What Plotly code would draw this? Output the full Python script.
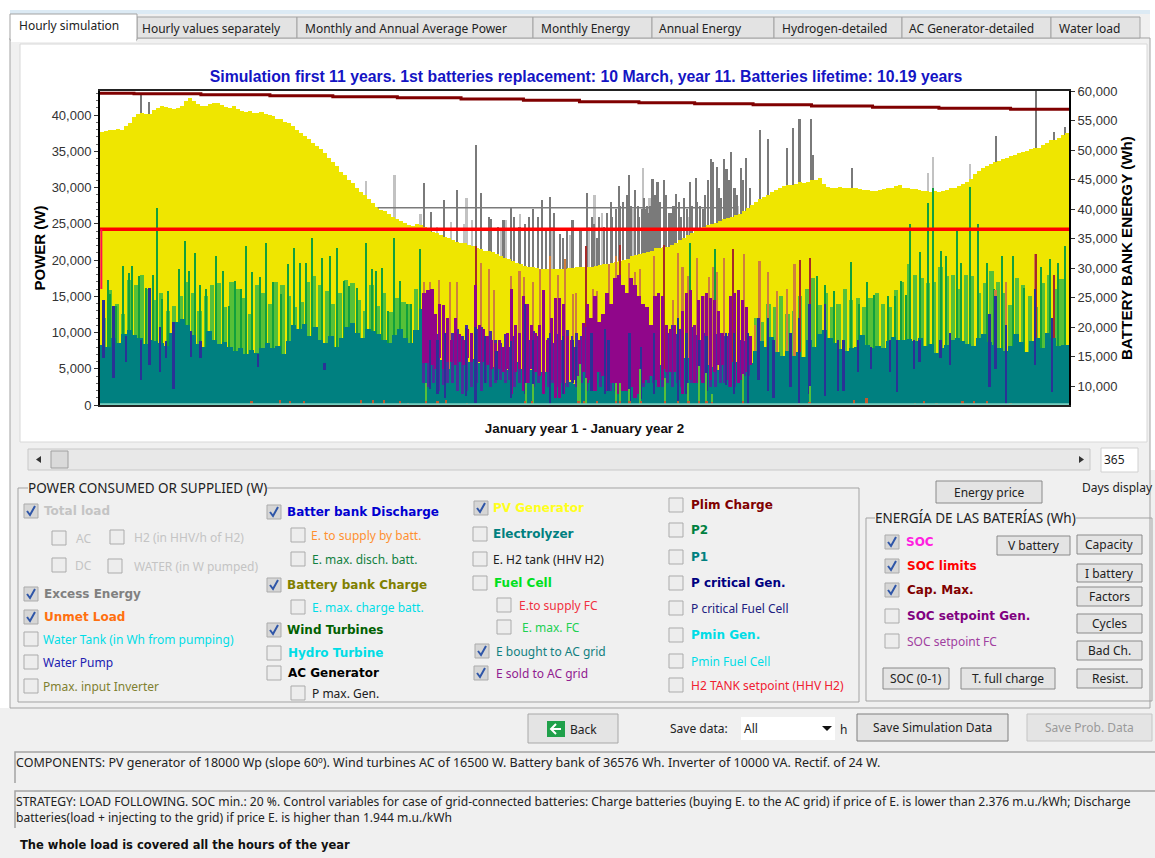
from __future__ import annotations

import plotly.graph_objects as go
from plotly.subplots import make_subplots

WIDTH = 1155
HEIGHT = 858
UI_FONT = "Noto Sans, sans-serif"
BOLD_FONT = "DejaVu Sans, sans-serif"
CHART_FONT = "Liberation Sans, Arial, sans-serif"

PALETTE = {
    "window": "#F0F0F0",
    "border": "#A3A3A3",
    "tab": "#E3E3E3",
    "button": "#E4E4E4",
    "yellow": "#EFE600",
    "teal": "#008080",
    "navy": "#2A3296",
    "indigo": "#4B2F9C",
    "purple": "#90068A",
    "green": "#12A03C",
    "lime": "#56C038",
    "orange": "#CF7F3C",
    "brick": "#A62A28",
    "gray": "#7A7A7A",
    "light_gray": "#C2C2C2",
    "maroon": "#800000",
    "red": "#FF0000",
}

# PV generator envelope, one value every 1.5 days (W)
PV_POWER = [
    37700, 37800, 37900, 38000, 38100, 38000, 38500, 38900, 39700, 40200, 40300, 40100, 40200, 40700, 40900, 41200,
    41100, 40900, 40800, 41000, 41300, 41900, 42300, 41900, 41500, 41300, 41200, 41500, 41600, 41700, 41400, 41100,
    41000, 41200, 40800, 40500, 40350, 40500, 40300, 40250, 40350, 40200, 40000, 39800, 39500, 39400, 39100, 38900,
    38500, 38000, 37500, 37100, 36700, 36200, 35700, 35300, 34700, 34100, 33500, 32900, 32200, 31700, 31100, 30600,
    30000, 29400, 28900, 28400, 27900, 27300, 26900, 26700, 26300, 25900, 25700, 25400, 25100, 24800, 24700, 24900,
    24800, 24500, 24200, 23900, 23700, 23400, 23200, 23000, 22800, 22500, 22400, 22300, 22100, 21900, 21700, 21500,
    21300, 21200, 21100, 20800, 20600, 20300, 20200, 19900, 19600, 19400, 19200, 19100, 19000, 18900, 18800, 18800,
    18750, 18800, 18800, 18750, 18800, 18900, 18900, 19000, 19000, 19100, 19100, 19100, 19200, 19300, 19400, 19500,
    19600, 19700, 19800, 20000, 20200, 20500, 20700, 20800, 21000, 21100, 21300, 21600, 21700, 21800, 21800, 22100,
    22400, 22800, 23100, 23400, 23700, 24000, 24300, 24500, 24800, 25000, 25100, 25400, 25600, 25800, 26000, 26200,
    26400, 26800, 27200, 27600, 28000, 28400, 28700, 29000, 29400, 29600, 29900, 30200, 30300, 30400, 30500, 30700,
    30600, 30800, 31000, 31100, 31300, 30500, 30100, 30000, 29900, 30100, 30000, 29900, 29950, 30000, 29800, 29700,
    29600, 29500, 29500, 29700, 29800, 30000, 30000, 30200, 30300, 30000, 29900, 29800, 29800, 29700, 29550, 29500,
    29400, 29500, 29400, 29500, 29600, 29900, 30000, 30200, 30500, 30800, 31200, 31800, 32300, 32700, 33000, 33300,
    33500, 33700, 33950, 34100, 34300, 34500, 34700, 34900, 35100, 35300, 35500, 35500, 35800, 36200, 36500, 36600,
    36800, 37200, 37500,
]

# Energy bought from the AC grid, one value every 2 days (W)
GRID_BOUGHT = [
    8300, 8000, 9300, 8600, 9800, 10400, 9700, 9200, 8400, 8900, 8800, 8600, 8200, 10000, 11500, 11800, 11000, 9600,
    8400, 8000, 10200, 9000, 8400, 8700, 8000, 7500, 7900, 7100, 7600, 7200, 7800, 8600, 7800, 8100, 7100, 8800,
    11000, 10500, 11200, 9500, 10800, 9000, 8600, 9500, 8000, 9200, 10700, 11300, 10000, 9200, 10500, 10200, 9800,
    9000, 8500, 9700, 10500, 9300, 8600, 10300, 13200,
    5800, 6500, 5500, 6200, 5000, 6500, 7200, 7000, 6000, 6400, 5800, 6200, 5600, 5200, 5900, 4800, 5200, 6000, 5000,
    5500, 4800, 5300, 4600, 4500, 3800, 3500, 3000, 3200, 2900, 3600, 4800, 4500, 5400, 4300, 5600, 6000, 4200, 3800,
    3500, 3000, 3400, 3600, 4200, 5000, 5500, 5000, 6000, 5800, 5400, 6500, 5600, 6200, 5000, 5500, 5200, 4800, 5800,
    7000, 6000, 5400, 5200, 5800, 7500,
    8800, 8000, 9400, 7300, 6800, 7500, 6800, 7300, 6600, 9000, 8000, 9800, 10400, 9300, 8600, 7700, 7400, 7900, 8000,
    9600, 8300, 7800, 8200, 7800, 8800, 9400, 8900, 9000, 9100, 8800, 9300, 8200, 8400, 7200, 7900, 8300, 9000, 9300,
    8800, 8400, 8100, 9200, 9800, 8700, 8300, 7900, 7400, 8100, 9800, 8700, 7300, 8800, 9200, 7900, 10000, 9300, 8100,
    8300, 8300,
]

WIND_DAYS = [
    2.9, 4, 5.9, 8.6, 10.9, 12, 14.8, 17.3, 19.9, 21.7, 23.5, 25.6, 30, 32.1, 33.6, 35.7, 37.9, 40, 43.6, 46.5, 48.7,
    50.8, 53, 55.2, 57.3, 60.2, 62.6, 65.2, 68.1, 71, 73.2, 75.3, 77.5, 79.9, 83.7, 86.8, 89.3, 91.9, 94, 96.9, 100.1,
    102.7, 104.1, 106.3, 108.4, 110.9, 113, 115.6, 117.1, 120.7,
    222.4, 231.7, 246.7, 255.2, 267.4, 270, 273.1, 276.7, 282.8, 286, 289.1, 291.7, 296.7, 299.5, 301.7, 303.8, 305,
    308.8, 312, 313.8, 316.7, 318.8, 322.8, 324.5, 327.7, 330.9, 334.2, 336.7, 340, 343.8, 348.1, 352.4, 354.5, 357.8,
    361, 363.5,
]
WIND_POWER = [
    17300, 15300, 13650, 19200, 18250, 19200, 17800, 16200, 18000, 27200, 14600, 15700, 18700, 22600, 18500, 21000,
    16600, 16000, 20600, 18500, 13650, 17100, 16000, 22000, 18400, 17600, 22400, 16900, 15300, 19400, 21700, 19600,
    19600, 23000, 20300, 20500, 21700, 17100, 16400, 16200, 22400, 18700, 18500, 18900, 13000, 23000, 17100, 13900,
    13900, 21500,
    22300, 21500, 11000, 15700, 20300, 17800, 16600, 15700, 19700, 14000, 16900, 15200, 15000, 15000, 17100, 15200,
    24960, 21100, 27900, 29900, 21200, 20600, 24000, 19600, 30100, 25000, 19600, 16000, 20600, 20600, 16200, 20800,
    19000, 20100, 19600, 22000,
]

# Lighter wind peaks between the tall ones, one value every 2.4 days
WIND_LOW_LEFT = [
    12000, 15800, 14000, 12500, 17200, 16500, 18000, 16000, 14500, 15500, 13000, 13600, 15000, 17000, 15500, 13000,
    15000, 16500, 16800, 13500, 17000, 16000, 14800, 12500, 16600, 15400, 14000, 17000, 16600, 15000, 13500, 14200,
    17000, 17800, 16500, 15700, 14000, 15500, 17200, 16800, 14500, 13000, 16500, 13600, 15500, 12800, 14800, 14200,
    13900, 16000,
]
WIND_LOW_RIGHT = [
    12000, 11500, 14000, 13500, 15000, 12500, 13000, 15000, 16000, 17500, 13800, 15500, 13500, 14000, 16000, 14500,
    14800, 13500, 14800, 15500, 14000, 13500, 15800, 17000, 19500, 18000, 17500, 16800, 17000, 19000, 17800, 18000,
    16000, 18000, 17800, 15500, 16800, 18500, 17000, 15500, 13800, 17500, 16500, 15000, 13500, 16800, 18000, 16000,
    17400,
]

DISCHARGE_DAYS = [
    1.4, 5.2, 9.8, 15.6, 18.7, 22.8, 24.9, 27.8, 34.3, 37.9, 59.5, 84.7, 124.3, 127.2, 130, 138, 141.6, 145.2, 149.5,
    155, 160.3, 163.2, 169.6, 174.5, 178.3, 179.5, 185.2, 190.2, 191.7, 199.5, 203.8, 208.8, 217.7, 221, 225.7, 228.5,
    236, 238.8, 244.2, 248.1, 251.7, 253.8, 260.2, 263.4, 267.4, 273.1, 278.1, 280.2, 285.5, 290.5, 297.7, 300.2,
    306.7, 308.8, 316.7, 320.2, 335.2, 337.4, 341.4, 352.4, 358.8,
]
DISCHARGE_TOP = [
    14500, 13700, 9500, 9000, 16200, 10800, 8800, 11500, 10200, 8800, 7000, 5800, 9000, 9000, 10000, 10600, 10800,
    9500, 7500, 8800, 14000, 9000, 10000, 9500, 9000, 8000, 10000, 10500, 9000, 10000, 8000, 10000, 12000, 10000, 9000,
    9500, 10000, 10000, 10000, 12000, 12000, 9000, 10000, 12000, 14000, 14000, 9000, 9000, 9000, 8000, 9000, 9000, 9000,
    9000, 9000, 10000, 12500, 15000, 11000, 16000, 12000,
]
DISCHARGE_BASE = [
    6500, 3700, 6000, 3400, 5500, 4500, 6500, 2200, 6600, 6500, 5300, 4800, 2200, 1500, 1000, 1200, 300, 3000, 3500,
    1000, 1500, 2000, 0, 1500, 3000, 3000, 2000, 1500, 2000, 0, 800, 1500, 0, 1500, 1000, 2000, 2800, 1500, 0, 3500,
    1900, 1000, 2500, 0, 1500, 1200, 2000, 2000, 4500, 5000, 4500, 1800, 5000, 6000, 6500, 5500, 2500, 5000, 0, 5500,
    1800,
]

# Battery discharge mass in the low-PV months, one value every 1.8 days from day 122
DISCHARGE_MID_TOP = [
    9000, 9500, 8500, 9800, 9000, 8000, 10000, 10500, 9500, 11000, 10000, 10500, 10800, 9500, 10200, 9000, 8500, 9800,
    8000, 9500, 8800, 10000, 9000, 10200, 9500, 8700, 9200, 8500, 9800, 9000, 10300, 9500, 10000, 9500, 10800, 10000,
    11000, 10500, 11500, 12000, 11000, 10000, 11000, 10500, 9500, 10000, 11000, 10500, 9500, 10500, 10800, 10000, 11000,
    9800, 10500, 10000, 10800, 9600, 9000, 10000, 10500, 9800, 10000, 9500, 10000, 10800, 9000, 8800, 9500,
]
DISCHARGE_MID_BASE = [
    3000, 2500, 3000, 2000, 2800, 3000, 3000, 2000, 1500, 2000, 2500, 3000, 2000, 3000, 2500, 3000, 3500, 3000, 3500,
    2500, 3000, 2500, 3000, 2500, 3000, 3000, 2500, 3000, 2500, 3000, 2500, 3000, 2500, 3000, 2000, 2500, 2000, 2500,
    2000, 2000, 2000, 2500, 2500, 3000, 3000, 2500, 2500, 3000, 3000, 2500, 2500, 3000, 2500, 3000, 2500, 2500, 3000,
    3000, 3500, 3000, 2500, 2500, 3000, 3000, 2500, 2500, 3500, 4000, 4000,
]

# E sold to the AC grid, one value every 1.5 days from day 122
SOLD_TOP = [
    15500, 15800, 16000, 12500, 14000, 13800, 12000, 9000, 12000, 9800, 9000, 10500, 10000, 16500, 11000, 10500, 9500,
    9000, 8500, 9000, 8000, 10000, 16000, 11000, 10000, 15000, 14000, 11000, 10000, 11000, 15800, 9000, 12000, 14800,
    14800, 14000, 9500, 9000, 8000, 9000, 11300, 14000, 12000, 15000, 11500, 12500, 15500, 14000, 17500, 18000, 16500,
    15500, 17500, 16500, 15000, 14000, 13500, 11000, 15000, 15500, 15000, 11000, 10500, 11000, 10500, 13000, 15500,
    15800, 11000, 14500, 15000, 15500, 14800, 14500, 13000, 10000, 9500, 15000, 15500, 15800, 14500, 13500, 9500,
]
SOLD_BASE = [
    5800, 5800, 5500, 5000, 6500, 5000, 6000, 6000, 5500, 6000, 5500, 6500, 6000, 1000, 6000, 6000, 5500, 5000, 5000,
    5000, 4500, 5000, 1500, 4500, 5000, 2000, 3000, 5000, 4500, 4000, 1500, 4500, 3500, 1000, 1000, 1500, 3500, 3500,
    3500, 3500, 4500, 3000, 3500, 2000, 4500, 4000, 2000, 3000, 3000, 1500, 2000, 2000, 2500, 1000, 1500, 3000, 3500,
    4000, 3500, 2500, 3500, 4500, 4500, 4500, 3500, 1500, 1500, 3500, 3000, 3000, 3000, 3000, 3500, 4500, 5500, 5500,
    3500, 2500, 3000, 3000, 3500, 4500, 5500,
]

BATTERY_DAYS = [
    122.1, 124.3, 127.9, 131.9, 134.4, 141.6, 143.7, 146.6, 148.5, 155, 158.1, 159.9, 163.2, 166, 169.6, 172.5, 175.1,
    178.1, 179.5, 183.1, 185.7, 187.4, 191.7, 194.5, 196, 199.5, 201.7, 203.5, 208.8, 212.4, 216, 217.7, 219.5, 221.7,
    224.8, 228.1, 229.5, 231, 232.4, 235.2, 238.5, 242.7, 246.7, 248.5, 251.7, 255.2, 258.8, 261.7, 263.8, 267.4,
    337.4, 341.4, 352.4, 359.5,
]
BATTERY_TOP = [
    16900, 16900, 17300, 16900, 16900, 21900, 19600, 18700, 15900, 17800, 18500, 17600, 16900, 18700, 20500, 18000,
    20100, 15300, 15500, 21900, 16000, 15700, 19400, 20500, 22100, 19600, 18300, 18700, 20500, 22100, 14500, 21000,
    19000, 17800, 20300, 15000, 17600, 19000, 18300, 20300, 21500, 20800, 11000, 19900, 18300, 15700, 16000, 19400,
    20000, 20300, 15900, 17000, 20800, 18000,
]
BRICK_DAYS = [5.2, 141.6, 183.1, 196, 212.4, 238.5, 263.8, 267.4, 352.4, 359.5]
BRICK_TOP = [13700, 21900, 21900, 22100, 22100, 21500, 20000, 20300, 20800, 18000]

EXCESS_DAYS = [
    15.6, 18.4, 122.1, 124.6, 129.6, 134.4, 141.6, 143.4, 146.6, 147.3, 154.8, 161.7, 166.5, 169.6, 173.2, 174.3,
    183.6, 185.2, 187.4, 192.4, 194.5, 195.5, 198.5, 199.2, 201.4, 202.8, 205.5, 206.5, 207.3, 208.1, 209, 210, 211,
    212.4, 213.2, 214.5, 217.1, 222.4, 224.5, 226, 227, 230, 230.8, 232.4, 235.2, 236, 237.7, 241.4, 243.4, 248.5,
    251.7, 258.8, 261.2, 263.5, 267.7, 268.5, 283.4, 337.4, 352.7, 359.5, 363.5,
    150, 152, 156, 158, 160, 163, 165, 168, 171, 176, 178, 181, 186, 188, 190, 191, 193, 196, 197, 200, 203, 204, 205,
    206, 209, 211, 213, 215, 216, 218, 219, 220, 221, 223, 225, 228, 229, 231, 233, 234, 237, 239, 240, 242, 245, 247,
]
EXCESS_TOP = [
    42760, 41840, 30570, 26660, 28280, 29660, 35860, 29200, 25970, 25700, 27170, 25970, 28280, 28740, 23650, 23000,
    29200, 26000, 23000, 28040, 27000, 30250, 29000, 31720, 29660, 27500, 27000, 26500, 27500, 31170, 27000, 30800,
    27000, 31030, 27500, 26500, 29100, 30800, 31260, 27500, 27000, 33890, 33500, 32870, 33900, 32500, 34940, 32640,
    34100, 37930, 36640, 35500, 38250, 39400, 39400, 34500, 32640, 37100, 43300, 37700, 38400,
    24500, 25500, 26000, 24500, 25000, 27000, 26000, 24000, 26500, 24000, 25500, 24000, 25000, 26000, 24500, 26500,
    26000, 27500, 28000, 27500, 26000, 27000, 28500, 27500, 29000, 28000, 29000, 26500, 27500, 28000, 26000, 28500,
    27000, 27500, 28000, 29000, 31000, 32000, 30000, 28500, 31000, 30000, 29000, 31000, 30000, 27000,
]
EXCESS_LIGHT_DAYS = [
    100.1, 110.9, 120.7, 132.2, 138, 140.1, 158.1, 164.9, 186.2, 204.5, 216, 240.2, 312, 313.8, 327.8,
    127, 137, 151, 153, 170, 177, 184, 189, 201, 207, 222,
]
EXCESS_LIGHT_TOP = [
    30900, 31700, 26400, 25300, 28510, 25500, 26400, 23500, 29000, 32640, 25000, 27500, 31980, 34200, 33240,
    24500, 25000, 24000, 25500, 24500, 23500, 24500, 26500, 27000, 28500, 26000,
]

LOAD_DAYS = [104.6, 240]
LOAD_POWER = [27200, 27200]
FLOOR_DAYS = [0, 365]
FLOOR_POWER = [90, 90]

LOW_WIND_DAYS = [
    122.8, 160.7, 163.2, 180.9, 183, 180.2, 180.2, 194.5, 196, 199.5, 203.5, 213, 221.7, 225.7, 228.5, 230.7, 242.4,
    267.4,
]
LOW_WIND_TOP = [
    3080, 3000, 2900, 5600, 3770, 4000, 3540, 3080, 3080, 2160, 4900, 3770, 3080, 5380, 4460, 1470, 4230, 2620,
]
STUB_DAYS = [
    57.1, 68, 71.6, 77, 98.3, 103, 107, 113, 116, 122.8, 127.2, 130.5, 138.3, 160.3, 162.8, 180.4, 182.5, 180.3, 187.4,
    194.5, 196, 199.5, 203.8, 213, 217.7, 221.7, 225.7, 228.5, 230.7, 242.4, 263.4, 267.4, 284.2, 288.8, 307, 310.5,
    315.2, 325, 329.4, 334.2, 343,
]
STUB_TOP = [
    500, 700, 600, 600, 700, 700, 700, 600, 300, 500, 600, 700, 300, 600, 600, 500, 600, 500, 500,
    600, 600, 500, 500, 600, 500, 500, 500, 500, 400, 500, 300, 400, 700, 900, 300, 500, 300, 600, 600, 600, 300,
]

CAP_MAX_DAYS = [0, 12.8, 38, 64, 87.7, 112, 136, 159.5, 180.6, 203, 224, 246, 268, 291, 316, 343, 365]
CAP_MAX = [
    59610, 59540, 59370, 59200, 59030, 58860, 58640, 58420, 58190, 58020, 57850, 57680, 57460, 57240, 57070, 56900,
    56900,
]
SOC_LIMIT_DAYS = [0, 365]
SOC_LIMIT_MAX = [36576, 36576]
SOC_START_DAYS = [0.5, 0.5]
SOC_START = [36576, 26440]

shapes: list[dict] = []
notes: list[dict] = []


def _px(x: float) -> float:
    return x / WIDTH


def _py(y: float) -> float:
    return 1 - y / HEIGHT


def rect(x0, y0, x1, y1, fill="rgba(0,0,0,0)", line=None, width=1):
    shapes.append(dict(
        type="rect", xref="paper", yref="paper", layer="below",
        x0=_px(x0), x1=_px(x1), y0=_py(y0), y1=_py(y1),
        fillcolor=fill, line=dict(color=line or fill, width=width if line else 0),
    ))


def poly(points, fill=None, line=None, width=1):
    path = "M " + " L ".join(f"{_px(x):.5f},{_py(y):.5f}" for x, y in points)
    if fill:
        path += " Z"
    shapes.append(dict(
        type="path", xref="paper", yref="paper", path=path,
        fillcolor=fill or "rgba(0,0,0,0)", line=dict(color=line or fill, width=width if line else 0),
    ))


def text(x, y, label, color="#222222", size=12, bold=False, anchor="left", family=None, bg=None):
    notes.append(dict(
        xref="paper", yref="paper", x=_px(x), y=_py(y), text=label, showarrow=False,
        xanchor=anchor, yanchor="middle", borderpad=0, borderwidth=0,
        bgcolor=bg or "rgba(0,0,0,0)",
        font=dict(
            family=family or (BOLD_FONT if bold else UI_FONT), size=size, color=color,
            weight=700 if bold else 400,
        ),
    ))


def checkbox(x, y, label, color, label_x, checked=False, bold=False):
    fill = "#D6D6D6" if checked else "#EDEDED"
    rect(x - 7, y - 7, x + 7, y + 7, fill=fill, line="#ABABAB")
    if checked:
        poly([(x - 4, y), (x - 1, y + 4), (x + 4, y - 5)], line="#2F56A8", width=2)
    text(label_x, y, label, color=color, bold=bold, size=12)


def button(x0, y0, x1, y1, label, color="#222222", line="#8A8A8A"):
    rect(x0, y0, x1, y1, fill=PALETTE["button"], line=line)
    text((x0 + x1) / 2, (y0 + y1) / 2, label, color=color, anchor="center")


def group(x0, y0, x1, y1, title, title_x):
    rect(x0, y0, x1, y1, line=PALETTE["border"])
    text(title_x, y0, title, size=13.5, bg=PALETTE["window"])


def draw_window():
    # page around the tab control
    rect(0, 0, WIDTH, 10, fill="#FFFFFF")
    rect(0, 10, 10, 708, fill="#FFFFFF")
    rect(1150, 10, WIDTH, 470, fill="#FFFFFF")
    rect(10, 10, 1150, 14, fill="#DCEAF4")
    rect(10, 38, 1150, 708, fill=PALETTE["window"], line=PALETTE["border"])
    rect(20, 44, 1147, 442, fill="#FFFFFF", line="#D8D8D8")

    for x0, x1, label, label_x in [
        (137, 297, "Hourly values separately", 142),
        (297, 533, "Monthly and Annual Average Power", 305),
        (533, 652, "Monthly Energy", 541),
        (652, 774, "Annual Energy", 659),
        (774, 902, "Hydrogen-detailed", 782),
        (902, 1051, "AC Generator-detailed", 909),
        (1051, 1140, "Water load", 1059),
    ]:
        rect(x0, 17, x1, 38, fill=PALETTE["tab"], line=PALETTE["border"])
        text(label_x, 28, label)
    rect(10, 14, 137, 40, fill="#FFFFFF", line=PALETTE["border"])
    rect(11, 37, 136, 42, fill="#FFFFFF")
    text(19, 26, "Hourly simulation")

    # scrollbar and day count
    rect(28, 449, 1090, 470, fill="#E8E8E8", line="#C8C8C8")
    rect(51, 451, 68, 468, fill="#DADADA", line="#A0A0A0")
    poly([(41, 456), (41, 463), (36, 459.5)], fill="#333333")
    poly([(1079, 456), (1079, 463), (1084, 459.5)], fill="#333333")
    rect(1101, 448, 1138, 472, fill="#FFFFFF", line="#D0D0D0")
    text(1104, 459, "365")

    group(18, 488, 859, 702, "POWER CONSUMED OR SUPPLIED (W)", 28)
    group(866, 518, 1152, 701, "ENERGÍA DE LAS BATERÍAS (Wh)", 875)

    faded = "#C4C4C4"
    cyan = "#00DDE6"
    checkbox(31, 511, "Total load", faded, 44, checked=True, bold=True)
    checkbox(59, 538, "AC", faded, 76)
    checkbox(117, 537, "H2 (in HHV/h of H2)", faded, 134)
    checkbox(59, 565, "DC", faded, 75)
    checkbox(115, 566, "WATER (in W pumped)", faded, 134)
    checkbox(31, 594, "Excess Energy", "#808080", 44, checked=True, bold=True)
    checkbox(31, 617, "Unmet Load", "#FF7010", 44, checked=True, bold=True)
    checkbox(31, 639, "Water Tank (in Wh from pumping)", cyan, 43)
    checkbox(31, 662, "Water Pump", "#2020B0", 43)
    checkbox(31, 686, "Pmax. input Inverter", "#808030", 43)

    checkbox(274, 512, "Batter bank Discharge", "#0000D0", 287, checked=True, bold=True)
    checkbox(298, 535, "E. to supply by batt.", "#FF9030", 311)
    checkbox(298, 559, "E. max. disch. batt.", "#108040", 312)
    checkbox(274, 585, "Battery bank Charge", "#808000", 287, checked=True, bold=True)
    checkbox(298, 607, "E. max. charge batt.", cyan, 312)
    checkbox(274, 630, "Wind Turbines", "#006000", 287, checked=True, bold=True)
    checkbox(274, 653, "Hydro Turbine", cyan, 288, bold=True)
    checkbox(274, 673, "AC Generator", "#000000", 288, bold=True)
    checkbox(298, 693, "P max. Gen.", "#202020", 312)

    checkbox(481, 508, "PV Generator", "#FFFF20", 493, checked=True, bold=True)
    checkbox(480, 534, "Electrolyzer", "#008080", 493, bold=True)
    checkbox(480, 559, "E. H2 tank (HHV H2)", "#202020", 493)
    checkbox(480, 583, "Fuel Cell", "#00E020", 494, bold=True)
    checkbox(504, 605, "E.to supply FC", "#F03040", 519)
    checkbox(504, 627, "E. max. FC", "#20D050", 522)
    checkbox(482, 651, "E bought to AC grid", "#108080", 496, checked=True)
    checkbox(481, 673, "E sold to AC grid", "#902090", 496, checked=True)

    checkbox(676, 505, "Plim Charge", "#800000", 691, bold=True)
    checkbox(676, 530, "P2", "#008040", 691, bold=True)
    checkbox(676, 557, "P1", "#008080", 691, bold=True)
    checkbox(676, 583, "P critical Gen.", "#000080", 691, bold=True)
    checkbox(676, 608, "P critical Fuel Cell", "#202080", 691)
    checkbox(676, 635, "Pmin Gen.", cyan, 691, bold=True)
    checkbox(676, 661, "Pmin Fuel Cell", cyan, 691)
    checkbox(676, 685, "H2 TANK setpoint (HHV H2)", "#F02030", 691)

    checkbox(892, 542, "SOC", "#FF20E0", 906, checked=True, bold=True)
    checkbox(892, 566, "SOC limits", "#FF0000", 907, checked=True, bold=True)
    checkbox(892, 590, "Cap. Max.", "#800000", 907, checked=True, bold=True)
    checkbox(892, 616, "SOC setpoint Gen.", "#800080", 907, bold=True)
    checkbox(892, 641, "SOC setpoint FC", "#A040A0", 907)

    button(936, 481, 1042, 503, "Energy price")
    text(1082, 488, "Days display")
    button(997, 536, 1070, 555, "V battery")
    button(1077, 535, 1142, 554, "Capacity")
    button(1077, 564, 1142, 582, "I battery")
    button(1077, 587, 1142, 606, "Factors")
    button(1077, 614, 1142, 633, "Cycles")
    button(1077, 641, 1142, 660, "Bad Ch.")
    button(1077, 669, 1142, 688, "Resist.")
    button(883, 668, 949, 689, "SOC (0-1)")
    button(961, 668, 1055, 689, "T. full charge")

    # bottom command row
    rect(528, 714, 618, 743, fill=PALETTE["button"], line="#A8A8A8")
    rect(547, 721, 565, 737, fill="#1FA04A")
    poly([(561, 729), (552, 729)], line="#FFFFFF", width=2)
    poly([(556, 724), (551, 729), (556, 734)], line="#FFFFFF", width=2)
    text(570, 729, "Back")
    text(670, 728, "Save data:")
    rect(741, 717, 835, 740, fill="#FFFFFF")
    text(744, 728, "All")
    poly([(822, 726), (832, 726), (827, 731)], fill="#111111")
    text(840, 729, "h")
    button(857, 714, 1008, 741, "Save Simulation Data", line="#7E7E7E")
    button(1027, 714, 1152, 741, "Save Prob. Data", color="#9A9A9A", line="#C4C4C4")

    for y0, y1 in [(752, 783), (791, 828)]:
        poly([(15, y1), (15, y0), (1155, y0)], line=PALETTE["border"], width=1.5)
    text(16, 762, "COMPONENTS: PV generator of 18000 Wp (slope 60º). Wind turbines AC of 16500 W. "
                  "Battery bank of 36576 Wh. Inverter of 10000 VA. Rectif. of 24 W.", size=12.5)
    text(16, 801, "STRATEGY: LOAD FOLLOWING. SOC min.: 20 %. Control variables for case of grid-connected batteries: "
                  "Charge batteries (buying E. to the AC grid) if price of E. is lower than 2.376 m.u./kWh; Discharge",
         size=12.1)
    text(16, 817, "batteries(load + injecting to the grid) if price E. is higher than 1.944 m.u./kWh", size=12.1)
    text(20, 845, "The whole load is covered all the hours of the year", color="#111111", bold=True, size=11.5)


def spikes(fig, days, tops, color, width, name, base=None):
    fig.add_bar(
        x=days, y=[t - b for t, b in zip(tops, base)] if base else tops, base=base, width=width, name=name,
        marker=dict(color=color, line=dict(width=0)), showlegend=False,
    )


fig = make_subplots(specs=[[{"secondary_y": True}]])

pv_step = 365 / len(PV_POWER)
spikes(fig, EXCESS_LIGHT_DAYS, EXCESS_LIGHT_TOP, PALETTE["light_gray"], 0.9, "Total load")
spikes(fig, EXCESS_DAYS, EXCESS_TOP, PALETTE["gray"], 0.8, "Excess Energy")
spikes(fig, [(i + 0.5) * pv_step for i in range(len(PV_POWER))], PV_POWER, PALETTE["yellow"], pv_step + 0.02, "PV Generator")
spikes(fig, [1.5 + i * 2.4 for i in range(len(WIND_LOW_LEFT))], WIND_LOW_LEFT, PALETTE["lime"], 1.6, "Wind Turbines low")
spikes(fig, [247 + i * 2.4 for i in range(len(WIND_LOW_RIGHT))], WIND_LOW_RIGHT, PALETTE["lime"], 1.6, "Wind Turbines low")
spikes(fig, WIND_DAYS, WIND_POWER, PALETTE["green"], 0.5, "Wind Turbines")
spikes(fig, BATTERY_DAYS, BATTERY_TOP, PALETTE["orange"], 0.6, "Battery bank Charge")
spikes(fig, BRICK_DAYS, BRICK_TOP, PALETTE["brick"], 0.4, "Unmet Load")
spikes(fig, [1 + i * 2 for i in range(len(GRID_BOUGHT))], GRID_BOUGHT, PALETTE["teal"], 2.02, "E bought to AC grid")
spikes(fig, [122 + i * 1.8 for i in range(len(DISCHARGE_MID_TOP))], DISCHARGE_MID_TOP, PALETTE["indigo"], 1.1, "Batter bank Discharge mass", base=DISCHARGE_MID_BASE)
spikes(fig, [122 + i * 1.5 for i in range(len(SOLD_TOP))], SOLD_TOP, PALETTE["purple"], 1.25, "E sold to AC grid", base=SOLD_BASE)
spikes(fig, DISCHARGE_DAYS, DISCHARGE_TOP, PALETTE["navy"], 0.7, "Batter bank Discharge", base=DISCHARGE_BASE)
spikes(fig, LOW_WIND_DAYS, LOW_WIND_TOP, PALETTE["lime"], 0.6, "Wind Turbines base")
spikes(fig, STUB_DAYS, STUB_TOP, "#C05A30", 0.7, "Unmet Load base")

fig.add_scatter(x=LOAD_DAYS, y=LOAD_POWER, mode="lines", name="Total load line", showlegend=False,
                line=dict(color=PALETTE["gray"], width=1.5))
fig.add_scatter(x=FLOOR_DAYS, y=FLOOR_POWER, mode="lines", name="Floor", showlegend=False,
                line=dict(color="#78CFC0", width=2))
fig.add_scatter(x=CAP_MAX_DAYS, y=CAP_MAX, mode="lines", name="Cap. Max.", showlegend=False, secondary_y=True,
                line=dict(color=PALETTE["maroon"], width=3, shape="hv"))
fig.add_scatter(x=SOC_LIMIT_DAYS, y=SOC_LIMIT_MAX, mode="lines", name="SOC limits", showlegend=False, secondary_y=True,
                line=dict(color=PALETTE["red"], width=3.5))
fig.add_scatter(x=SOC_START_DAYS, y=SOC_START, mode="lines", name="SOC", showlegend=False, secondary_y=True,
                line=dict(color="#FF1050", width=2))

draw_window()

fig.update_layout(
    width=WIDTH,
    height=HEIGHT,
    autosize=False,
    margin=dict(l=0, r=0, t=0, b=0, autoexpand=False),
    paper_bgcolor=PALETTE["window"],
    plot_bgcolor="#FFFFFF",
    barmode="overlay",
    bargap=0,
    showlegend=False,
    font=dict(family=CHART_FONT, color="#333333"),
    title=dict(
        text="Simulation first 11 years. 1st batteries replacement: 10 March, year 11. Batteries lifetime: 10.19 years",
        font=dict(family=CHART_FONT, size=15.8, color="#1414C4", weight=700),
        x=_px(586), xanchor="center", xref="paper", y=_py(76), yanchor="middle", yref="paper",
    ),
    shapes=shapes,
    annotations=notes,
)
fig.update_xaxes(
    automargin=False,
    domain=[_px(100), _px(1069)],
    range=[0, 365],
    showgrid=False,
    zeroline=False,
    showticklabels=False,
    ticks="",
    showline=True,
    linecolor="#222222",
    linewidth=1.5,
    mirror=True,
    title=dict(text="January year 1 - January year 2", standoff=18,
               font=dict(family=CHART_FONT, size=13.4, color="#111111", weight=700)),
)
fig.update_yaxes(
    secondary_y=False,
    automargin=False,
    domain=[_py(405), _py(91)],
    range=[0, 43310],
    dtick=5000,
    tickformat=",d",
    showgrid=False,
    zeroline=False,
    showline=True,
    linecolor="#000000",
    linewidth=2,
    ticks="outside",
    ticklen=4,
    tickcolor="#333333",
    minor=dict(ticks="outside", ticklen=2, dtick=1000, tickcolor="#666666"),
    tickfont=dict(family=CHART_FONT, size=13, color="#333333"),
    title=dict(text="POWER (W)", standoff=2, font=dict(family=CHART_FONT, size=15, color="#000000", weight=700)),
)
fig.update_yaxes(
    secondary_y=True,
    automargin=False,
    domain=[_py(405), _py(91)],
    range=[6780, 60000],
    tick0=10000,
    dtick=5000,
    tickformat=",d",
    showgrid=False,
    zeroline=False,
    showline=True,
    linecolor="#000000",
    linewidth=2,
    ticks="outside",
    ticklen=4,
    tickcolor="#333333",
    tickfont=dict(family=CHART_FONT, size=13, color="#333333"),
    title=dict(text="BATTERY BANK ENERGY (Wh)", standoff=5,
               font=dict(family=CHART_FONT, size=15.2, color="#000000", weight=700)),
)

fig.write_html(
    "out.html",
    config={"displayModeBar": False},
    post_script="document.body.style.margin='0';document.documentElement.style.overflow='hidden';",
)
